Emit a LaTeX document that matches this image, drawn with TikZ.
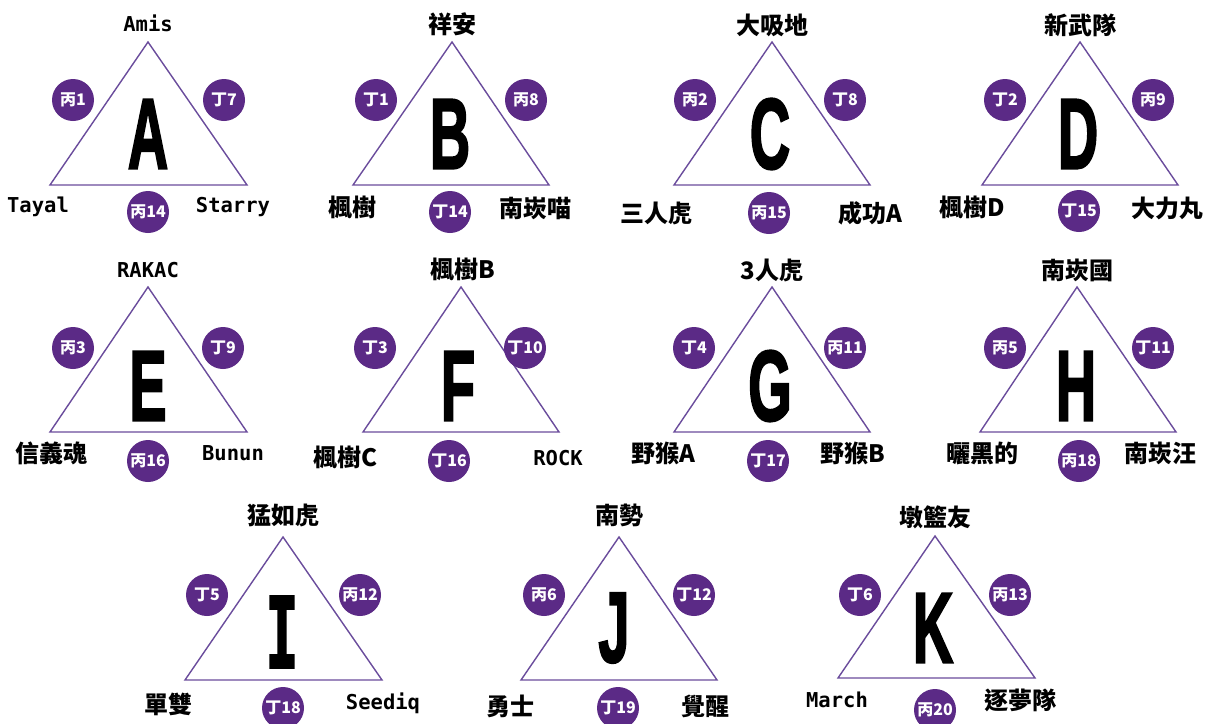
\documentclass[tikz,border=0pt]{standalone}
\usepackage{fontspec}
\usepackage{graphicx}
\newfontfamily\cjk{Noto Sans CJK TC}
\newfontfamily\monofnt{DejaVu Sans Mono}
\newfontfamily\bigfnt{Liberation Sans}[BoldFeatures={FakeBold=2.5}]
\newfontfamily\bigmono{DejaVu Sans Mono}[BoldFeatures={FakeBold=2.5}]
\definecolor{tripurple}{HTML}{6A4C9C}
\definecolor{seatpurple}{HTML}{5B2A86}
\newcommand{\grp}[1]{\scalebox{0.56}[1]{#1}}
\tikzset{
  edge/.style={draw=tripurple, line width=1.4pt, line join=miter},
  seat/.style={circle, fill=seatpurple, text=white, minimum size=42pt, inner sep=0pt,
    font=\cjk\bfseries\fontsize{16}{16}\selectfont},
  cname/.style={inner sep=0pt, font=\cjk\bfseries\fontsize{24}{24}\selectfont},
  lname/.style={inner sep=0pt, font=\monofnt\bfseries\fontsize{20.5}{20.5}\selectfont},
  group/.style={inner sep=0pt, font=\bigfnt\bfseries\fontsize{100}{100}\selectfont},
}
\begin{document}
\begin{tikzpicture}[x=1pt,y=-1pt]
\useasboundingbox[fill=white] (0,0) rectangle (1206,723);

% A
\coordinate (A1) at (148,42);
\coordinate (A2) at (50,185);
\coordinate (A3) at (247,185);
\path[edge] (A1) -- (A2) -- (A3) -- cycle;
\node[group] (Ag) at (148,134) {\grp{A}};
\node[lname] (At) at (148,23) {Amis};
\node[lname] (Al) at (38,207) {Tayal};
\node[lname] (Ar) at (233,207) {Starry};
\node[seat] (As1) at (73,100) {丙1};
\node[seat] (As2) at (224,100) {丁7};
\node[seat] (As3) at (148,212) {丙14};

% B
\coordinate (B1) at (452,42);
\coordinate (B2) at (353,185);
\coordinate (B3) at (549,185);
\path[edge] (B1) -- (B2) -- (B3) -- cycle;
\node[group] (Bg) at (450,134) {\grp{B}};
\node[cname] (Bt) at (452,24) {祥安};
\node[cname] (Bl) at (352,208) {楓樹};
\node[cname] (Br) at (535,208) {南崁喵};
\node[seat] (Bs1) at (376,100) {丁1};
\node[seat] (Bs2) at (526,100) {丙8};
\node[seat] (Bs3) at (450,212) {丁14};

% C
\coordinate (C1) at (772,42);
\coordinate (C2) at (674,185);
\coordinate (C3) at (870,185);
\path[edge] (C1) -- (C2) -- (C3) -- cycle;
\node[group] (Cg) at (770,134) {\grp{C}};
\node[cname] (Ct) at (772,25) {大吸地};
\node[cname] (Cl) at (656,213) {三人虎};
\node[cname] (Cr) at (870,213) {成功A};
\node[seat] (Cs1) at (695,100) {丙2};
\node[seat] (Cs2) at (845,100) {丁8};
\node[seat] (Cs3) at (769,213) {丙15};

% D
\coordinate (D1) at (1080,42);
\coordinate (D2) at (982,185);
\coordinate (D3) at (1178,185);
\path[edge] (D1) -- (D2) -- (D3) -- cycle;
\node[group] (Dg) at (1078,134) {\grp{D}};
\node[cname] (Dt) at (1080,25) {新武隊};
\node[cname] (Dl) at (972,208) {楓樹D};
\node[cname] (Dr) at (1167,208) {大力丸};
\node[seat] (Ds1) at (1005,100) {丁2};
\node[seat] (Ds2) at (1153,100) {丙9};
\node[seat] (Ds3) at (1079,211) {丁15};

% E
\coordinate (E1) at (148,287);
\coordinate (E2) at (50,432);
\coordinate (E3) at (247,432);
\path[edge] (E1) -- (E2) -- (E3) -- cycle;
\node[group] (Eg) at (148,386) {\grp{E}};
\node[lname] (Et) at (148,270) {RAKAC};
\node[cname] (El) at (52,453) {信義魂};
\node[lname] (Er) at (233,453) {Bunun};
\node[seat] (Es1) at (73,348) {丙3};
\node[seat] (Es2) at (223,348) {丁9};
\node[seat] (Es3) at (148,461) {丙16};

% F
\coordinate (F1) at (461,287);
\coordinate (F2) at (363,432);
\coordinate (F3) at (559,432);
\path[edge] (F1) -- (F2) -- (F3) -- cycle;
\node[group] (Fg) at (458,386) {\grp{F}};
\node[cname] (Ft) at (463,270) {楓樹B};
\node[cname] (Fl) at (345,458) {楓樹C};
\node[lname] (Fr) at (558,458) {ROCK};
\node[seat] (Fs1) at (375,348) {丁3};
\node[seat] (Fs2) at (525,348) {丁10};
\node[seat] (Fs3) at (449,461) {丁16};

% G
\coordinate (G1) at (772,287);
\coordinate (G2) at (674,432);
\coordinate (G3) at (870,432);
\path[edge] (G1) -- (G2) -- (G3) -- cycle;
\node[group] (Gg) at (770,386) {\grp{G}};
\node[cname] (Gt) at (772,270) {3人虎};
\node[cname] (Gl) at (663,453) {野猴A};
\node[cname] (Gr) at (853,453) {野猴B};
\node[seat] (Gs1) at (694,348) {丁4};
\node[seat] (Gs2) at (845,348) {丙11};
\node[seat] (Gs3) at (768,461) {丁17};

% H
\coordinate (H1) at (1077,287);
\coordinate (H2) at (980,432);
\coordinate (H3) at (1176,432);
\path[edge] (H1) -- (H2) -- (H3) -- cycle;
\node[group] (Hg) at (1076,386) {\grp{H}};
\node[cname] (Ht) at (1077,270) {南崁國};
\node[cname] (Hl) at (982,453) {曬黑的};
\node[cname] (Hr) at (1160,453) {南崁汪};
\node[seat] (Hs1) at (1005,348) {丙5};
\node[seat] (Hs2) at (1153,348) {丁11};
\node[seat] (Hs3) at (1079,461) {丙18};

% I
\coordinate (I1) at (283,537);
\coordinate (I2) at (185,680);
\coordinate (I3) at (382,680);
\path[edge] (I1) -- (I2) -- (I3) -- cycle;
\node[group, font=\bigmono\bfseries\fontsize{98}{98}\selectfont] (Ig) at (282,632) {\grp{I}};
\node[cname] (It) at (283,515) {猛如虎};
\node[cname] (Il) at (168,704) {單雙};
\node[lname] (Ir) at (383,703) {Seediq};
\node[seat] (Is1) at (207,595) {丁5};
\node[seat] (Is2) at (360,595) {丙12};
\node[seat] (Is3) at (283,708) {丁18};

% J
\coordinate (J1) at (619,537);
\coordinate (J2) at (521,680);
\coordinate (J3) at (717,680);
\path[edge] (J1) -- (J2) -- (J3) -- cycle;
\node[group] (Jg) at (614,628) {\grp{J}};
\node[cname] (Jt) at (619,515) {南勢};
\node[cname] (Jl) at (510,706) {勇士};
\node[cname] (Jr) at (705,706) {覺醒};
\node[seat] (Js1) at (544,595) {丙6};
\node[seat] (Js2) at (694,595) {丁12};
\node[seat] (Js3) at (618,708) {丁19};

% K
\coordinate (K1) at (935,536);
\coordinate (K2) at (838,678);
\coordinate (K3) at (1035,678);
\path[edge] (K1) -- (K2) -- (K3) -- cycle;
\node[group] (Kg) at (933,628) {\grp{K}};
\node[cname] (Kt) at (935,517) {墩籃友};
\node[lname] (Kl) at (837,700) {March};
\node[cname] (Kr) at (1020,700) {逐夢隊};
\node[seat] (Ks1) at (860,595) {丁6};
\node[seat] (Ks2) at (1010,595) {丙13};
\node[seat] (Ks3) at (935,710) {丙20};
\end{tikzpicture}
\end{document}
